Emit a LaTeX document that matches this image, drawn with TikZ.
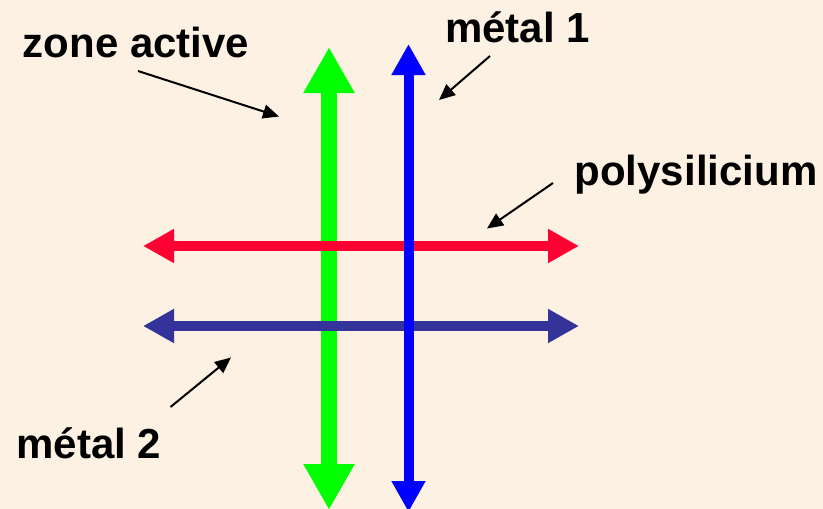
\documentclass[tikz,border=0pt]{standalone}
\usepackage{fontspec}
\setmainfont{Liberation Sans}
\usetikzlibrary{arrows.meta}
\definecolor{bgcream}{RGB}{253,241,228}
\definecolor{zgreen}{RGB}{0,255,0}
\definecolor{mblue}{RGB}{0,0,255}
\definecolor{pred}{RGB}{255,0,51}
\definecolor{mdarkblue}{RGB}{51,51,153}
\tikzset{
  lbl/.style={inner sep=0pt, anchor=base, font=\bfseries\fontsize{42}{50}\selectfont},
  pointer/.style={draw=black, line width=2pt, -{Triangle[length=16pt,width=14pt]}},
  wideline/.style={line width=16pt, {Triangle[length=46pt,width=48pt]}-{Triangle[length=46pt,width=48pt]}},
  thinline/.style={line width=10pt, {Triangle[length=31pt,width=32pt]}-{Triangle[length=31pt,width=32pt]}}
}
\begin{document}
\begin{tikzpicture}[x=1pt,y=-1pt]
\fill[bgcream] (0,0) rectangle (823,509);
\useasboundingbox (0,0) rectangle (823,509);
\begin{scope}
\clip (0,0) rectangle (823,509);
% end points
\coordinate (gT) at (329,47);
\coordinate (gB) at (329,510);
\coordinate (bT) at (408.5,44);
\coordinate (bB) at (408.5,512);
\coordinate (rL) at (143,246);
\coordinate (rR) at (579,246);
\coordinate (dL) at (143,326);
\coordinate (dR) at (579,326);
\draw[wideline, zgreen] (gT) -- (gB);
\draw[thinline, pred] (rL) -- (rR);
\draw[thinline, mdarkblue] (dL) -- (dR);
\draw[thinline, mblue] (bT) -- (bB);
\end{scope}
% labels
\node[lbl] (za) at (136,57) {zone active};
\node[lbl] (m1) at (517.5,42) {métal 1};
\node[lbl] (ps) at (696,185) {polysilicium};
\node[lbl] (m2) at (89,458) {métal 2};
% pointer coordinates
\coordinate (zaS) at (138,71);
\coordinate (zaE) at (279,116.5);
\coordinate (m1S) at (490,56);
\coordinate (m1E) at (439,100);
\coordinate (psS) at (553,183);
\coordinate (psE) at (487,228.5);
\coordinate (m2S) at (170.5,407);
\coordinate (m2E) at (231,357.5);
\draw[pointer] (zaS) -- (zaE);
\draw[pointer] (m1S) -- (m1E);
\draw[pointer] (psS) -- (psE);
\draw[pointer] (m2S) -- (m2E);
\end{tikzpicture}
\end{document}
